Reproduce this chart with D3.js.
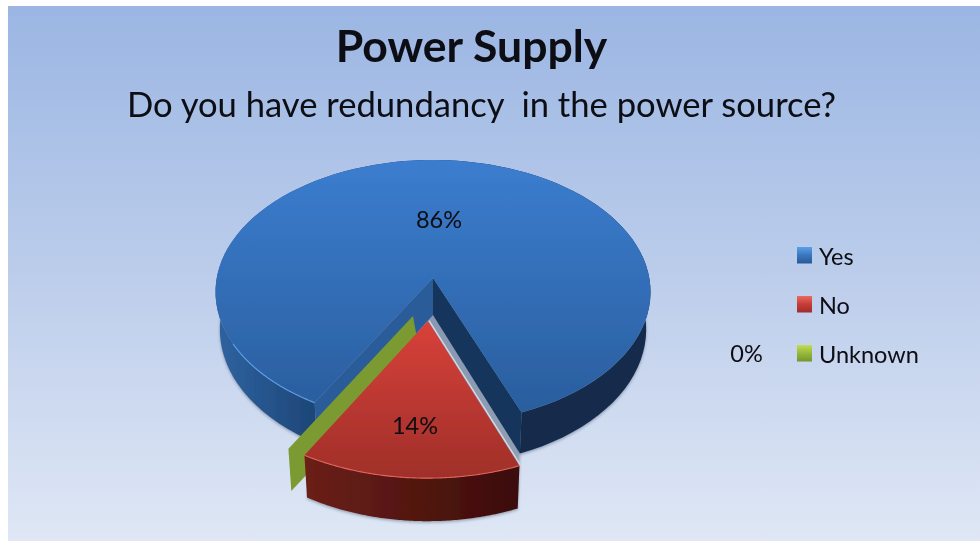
<!DOCTYPE html>
<html><head><meta charset="utf-8">
<style>html,body{margin:0;padding:0;background:#fff}svg{display:block}text{font-family:Lato,"Open Sans",sans-serif;fill:#0b0b12}</style>
<script src="https://cdn.jsdelivr.net/npm/d3@7"></script></head><body>
<script>
const categories = ["Yes","No","Unknown"];
const values = [85.7,14.3,0];
const valueLabels = ["86%","14%","0%"];
const titleText = "Power Supply";
const subtitleText = "Do you have redundancy  in the power source?";

const W=980,H=541;
const svg=d3.select("body").append("svg").attr("width",W).attr("height",H);
const defs=svg.append("defs");
function grad(id,stops,horizontal){
  const g=defs.append("linearGradient").attr("id",id).attr("x1",0).attr("y1",0)
    .attr("x2",horizontal?1:0).attr("y2",horizontal?0:1);
  stops.forEach(s=>g.append("stop").attr("offset",s[0]).attr("stop-color",s[1]));
}
grad("bg",[[0,"#9bb6e3"],[.5,"#bccdeb"],[1,"#dfe7f5"]]);
grad("blueTop",[[0,"#3b7dcf"],[1,"#2a5e9e"]]);
grad("redTop",[[0,"#d8413a"],[1,"#9f2f29"]]);
grad("blueWall",[[0,"#2f63a1"],[.22,"#1e4779"],[.5,"#13294a"],[1,"#132a4b"]],true);
grad("redWall",[[0,"#6c2019"],[1,"#3b0c08"]],true);
grad("swBlue",[[0,"#5aa0e6"],[.5,"#3a76bd"],[1,"#2a5a96"]]);
grad("swRed",[[0,"#ea6a62"],[.5,"#c63c36"],[1,"#a02e2a"]]);
grad("swGreen",[[0,"#c3dc55"],[.5,"#96b83a"],[1,"#76952c"]]);
defs.append("filter").attr("id","soft").append("feGaussianBlur").attr("stdDeviation",.55);
defs.append("filter").attr("id","softText").append("feGaussianBlur").attr("stdDeviation",.42);
defs.append("filter").attr("id","shadow").append("feGaussianBlur").attr("stdDeviation",1.6);

svg.append("rect").attr("x",8).attr("y",6).attr("width",W-8).attr("height",H-6).attr("fill","url(#bg)");

// perspective view of the pie plane
const cx=433,cy=278,A=216.3,B=130.5,persp=.106,depth=37,explode=.32,converge=.98;
const den=p=>1-persp*p[1];
const toScreen=(p,z)=>[cx+A*p[0]/den(p)*(z?converge:1), cy+B*p[1]/den(p)+(z?depth/den(p):0)];
// angle 0 points at the viewer, angles run clockwise on screen
const onRim=(t,o)=>[-Math.sin(t)+o[0], Math.cos(t)+o[1]];
const rotation=29.8*Math.PI/180;
const pie=d3.pie().sort(null).startAngle(rotation).endAngle(rotation+2*Math.PI);
const arcs=pie(values).map((a,i)=>({...a,name:categories[i]}));
const line=d3.line();
const pts=(a,b,o,z)=>d3.range(0,101).map(i=>toScreen(onRim(a+(b-a)*i/100,o),z));

const g=svg.append("g").attr("filter","url(#soft)");
const blue=arcs[0],red=arcs[1],green=arcs[2];
const mid=(red.startAngle+red.endAngle)/2;
const off=[-explode*Math.sin(mid),explode*Math.cos(mid)];
const zero=[0,0];

function wall(a,o,wallFill){
  const top=pts(a.startAngle,a.endAngle,o,false), bot=pts(a.startAngle,a.endAngle,o,true);
  g.append("path").attr("d",line(top.concat(bot.slice().reverse()))+"Z").attr("fill",wallFill);
  return top;
}
// soft ground shadow
svg.insert("path","g").attr("filter","url(#shadow)").attr("fill","#5a6a80").attr("opacity",.55)
  .attr("transform","translate(0,1.5)")
  .attr("d",line(pts(blue.startAngle,blue.endAngle,zero,true).concat(pts(red.startAngle,red.endAngle,off,true)))+"Z");

// blue slice: outer wall, notch walls, top face
const blueTop=wall(blue,zero,"url(#blueWall)");
const apex=toScreen(zero,false),apexLow=toScreen(zero,true);
const bS0=toScreen(onRim(blue.startAngle,zero),false),bS1=toScreen(onRim(blue.startAngle,zero),true);
const bE0=toScreen(onRim(blue.endAngle,zero),false),bE1=toScreen(onRim(blue.endAngle,zero),true);
g.append("path").attr("d",line([apex,bE0,bE1,apexLow])+"Z").attr("fill","#17355b");
g.append("path").attr("d",line([apex,bS0,bS1,apexLow])+"Z").attr("fill","#2b5c99");
g.append("path").attr("d",line([apex,...blueTop])+"Z").attr("fill","url(#blueTop)");
g.append("path").attr("d",line(pts(blue.startAngle,blue.startAngle+.55,zero,false))).attr("fill","none").attr("stroke","#5d9be0").attr("stroke-width",1.2);

// zero-size slice: only its wall is visible, pulled out like the red slice
const gOff=[-.09,.282];
const gIn=toScreen(gOff,false),gRim=toScreen(onRim(green.startAngle,gOff),false);
const gRimLow=toScreen(onRim(green.startAngle,gOff),true);
g.append("path").attr("fill","#7b9a30")
  .attr("d",line([gIn,gRim,gRimLow,toScreen(gOff.map((v,i)=>v+[.03,.0][i]),true),gIn])+"Z");

// red slice
const redTop=wall(red,off,"url(#redWall)");
const apexRed=toScreen(off,false);
const rimA=toScreen(onRim(red.startAngle,off),false);
g.append("path").attr("d",line([apexRed,...redTop])+"Z").attr("fill","url(#redTop)");
g.append("path").attr("d",line(redTop)).attr("fill","none").attr("stroke","#e2645a").attr("stroke-width",1.1);
g.append("path").attr("d",line([apexRed,rimA])).attr("fill","none").attr("stroke","#d5dbe4").attr("stroke-width",1.3).attr("transform","translate(1.1,-.5)");

// text
const t=svg.append("g").attr("filter","url(#softText)");
t.append("text").attr("x",471.5).attr("y",61.5).attr("text-anchor","middle").attr("font-size",44.5).attr("font-weight",700).text(titleText);
t.append("text").attr("x",127).attr("y",117).attr("font-size",34.6).style("white-space","pre").text(subtitleText);
const valuePos=[[439,228],[415,434],[746.5,362]];
t.selectAll("text.v").data(valueLabels).join("text").attr("class","v")
  .attr("x",(d,i)=>valuePos[i][0]).attr("y",(d,i)=>valuePos[i][1])
  .attr("text-anchor","middle").attr("font-size",23.5).text(d=>d);

// legend
const legendY=d3.scalePoint().domain(categories).range([247,345]);
const swatch=["url(#swBlue)","url(#swRed)","url(#swGreen)"];
const leg=svg.append("g");
leg.selectAll("rect").data(categories).join("rect").attr("x",797).attr("y",d=>legendY(d)).attr("width",15).attr("height",16.5)
  .attr("fill",(d,i)=>swatch[i]).attr("filter","url(#softText)");
t.selectAll("text.l").data(categories).join("text").attr("class","l").attr("x",819).attr("y",d=>legendY(d)+17.5)
  .attr("font-size",23.5).text(d=>d);
</script></body></html>
